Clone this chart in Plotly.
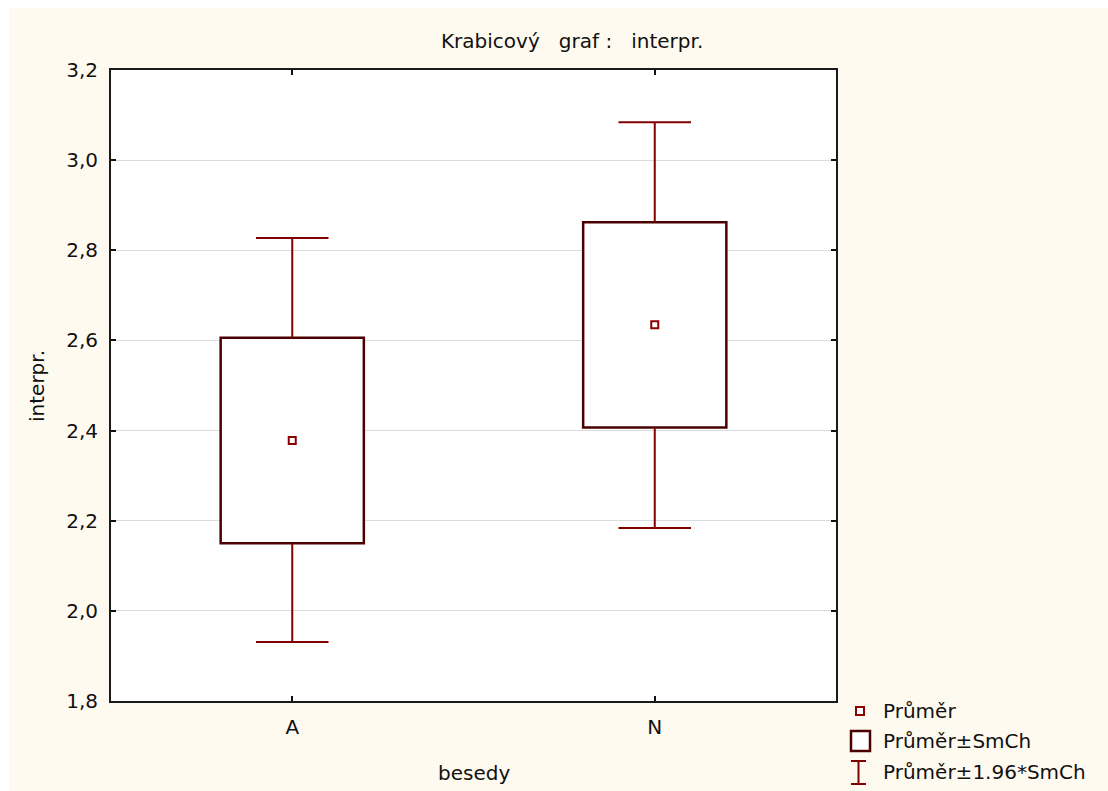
import plotly.graph_objects as go

# ---- data ----
categories = ["A", "N"]
cat_pos = [0, 1]
means = [2.378, 2.635]
box_low = [2.150, 2.407]
box_high = [2.606, 2.862]
whisk_low = [1.931, 2.184]
whisk_high = [2.827, 3.084]
y_ticks = [1.8, 2.0, 2.2, 2.4, 2.6, 2.8, 3.0, 3.2]

W, H = 1108, 791
L, R, T, B = 111, 836, 70, 701

def px(x):
    return (x - L) / (R - L)

def py(y):
    return (B - y) / (B - T)

FONT = "DejaVu Sans, Verdana, sans-serif"
FS = 20
WHISK = "#800000"
BOXC = "#4a0000"
MEANC = "#8b0000"
CAP = 0.1
BOXW = 0.395

fig = go.Figure()

# whiskers (vertical parts + caps)
for i, c in enumerate(cat_pos):
    fig.add_trace(go.Scatter(x=[c, c], y=[box_high[i], whisk_high[i]], mode="lines",
                             line=dict(color=WHISK, width=2), showlegend=False, hoverinfo="skip"))
    fig.add_trace(go.Scatter(x=[c, c], y=[box_low[i], whisk_low[i]], mode="lines",
                             line=dict(color=WHISK, width=2), showlegend=False, hoverinfo="skip"))
    fig.add_trace(go.Scatter(x=[c - CAP, c + CAP], y=[whisk_high[i], whisk_high[i]], mode="lines",
                             line=dict(color=WHISK, width=2), showlegend=False, hoverinfo="skip"))
    fig.add_trace(go.Scatter(x=[c - CAP, c + CAP], y=[whisk_low[i], whisk_low[i]], mode="lines",
                             line=dict(color=WHISK, width=2), showlegend=False, hoverinfo="skip"))

# boxes
fig.add_trace(go.Bar(x=cat_pos, y=[h - l for h, l in zip(box_high, box_low)], base=box_low,
                     width=BOXW, marker=dict(color="white", line=dict(color=BOXC, width=2.5)),
                     showlegend=False, hoverinfo="skip"))

# means
fig.add_trace(go.Scatter(x=cat_pos, y=means, mode="markers",
                         marker=dict(symbol="square", size=7, color="white",
                                     line=dict(color=MEANC, width=2)),
                         showlegend=False))

shapes = [
    dict(type="rect", xref="paper", yref="paper", x0=px(9), x1=px(W + 5), y0=py(8), y1=py(H + 5),
         fillcolor="#fffaf0", line=dict(width=0), layer="below"),
    dict(type="rect", xref="paper", yref="paper", x0=0, x1=1, y0=0, y1=1,
         fillcolor="white", line=dict(width=0), layer="below"),
    dict(type="rect", xref="paper", yref="paper", x0=px(856), x1=px(864), y0=py(715), y1=py(707),
         fillcolor="white", line=dict(color=MEANC, width=2)),
    dict(type="rect", xref="paper", yref="paper", x0=px(851), x1=px(870), y0=py(751), y1=py(731),
         fillcolor="white", line=dict(color=BOXC, width=2.5)),
    dict(type="line", xref="paper", yref="paper", x0=px(858.5), x1=px(858.5), y0=py(761), y1=py(784),
         line=dict(color=WHISK, width=2)),
    dict(type="line", xref="paper", yref="paper", x0=px(851), x1=px(866), y0=py(761), y1=py(761),
         line=dict(color=WHISK, width=2)),
    dict(type="line", xref="paper", yref="paper", x0=px(851), x1=px(866), y0=py(784), y1=py(784),
         line=dict(color=WHISK, width=2)),
]

def ann(text, x, y, anchor="center", angle=0):
    return dict(text=text, xref="paper", yref="paper", x=px(x), y=py(y),
                xanchor=anchor, yanchor="middle", showarrow=False, textangle=angle,
                font=dict(family=FONT, size=FS, color="#111"))

annotations = [
    ann("Krabicový\u00a0\u00a0\u00a0graf\u00a0:\u00a0\u00a0\u00a0interpr.", 572, 41),
    ann("besedy", 474, 773),
    ann("interpr.", 37, 386, angle=-90),
    ann("Průměr", 881, 711, "left"),
    ann("Průměr±SmCh", 881, 741, "left"),
    ann("Průměr±1.96*SmCh", 881, 772, "left"),
]

fig.update_layout(
    width=W, height=H,
    margin=dict(l=L, r=W - R, t=T, b=H - B, pad=0),
    paper_bgcolor="white", plot_bgcolor="rgba(0,0,0,0)",
    separators=", ",
    showlegend=False,
    shapes=shapes, annotations=annotations,
    font=dict(family=FONT, size=FS, color="#111"),
)
fig.update_xaxes(range=[-0.5, 1.5], tickvals=cat_pos, ticktext=categories,
                 ticks="inside", ticklen=5, tickwidth=1.5, tickcolor="#111",
                 showline=True, linecolor="#1a1a1a", linewidth=2, mirror="ticks",
                 showgrid=False, zeroline=False, fixedrange=True, ticklabelstandoff=7,
                 tickfont=dict(family=FONT, size=FS, color="#111"))
fig.update_yaxes(range=[1.8, 3.2], tickvals=y_ticks, tickformat=".1f",
                 ticks="inside", ticklen=5, tickwidth=1.5, tickcolor="#111",
                 showline=True, linecolor="#1a1a1a", linewidth=2, mirror="ticks",
                 showgrid=True, gridcolor="#dcdcdc", gridwidth=1, zeroline=False,
                 fixedrange=True, ticklabelstandoff=7,
                 tickfont=dict(family=FONT, size=FS, color="#111"))

fig.write_html("out.html")
